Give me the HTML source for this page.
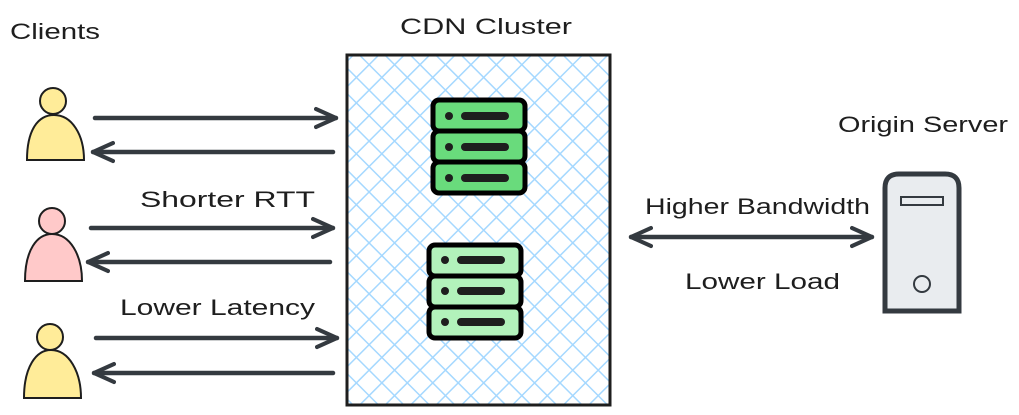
<!DOCTYPE html>
<html><head><meta charset="utf-8"><style>
html,body{margin:0;padding:0;background:#fff;}
svg{display:block;}
text{font-family:"Liberation Sans",sans-serif;font-size:22px;fill:#1e1e1e;}
</style></head><body>
<svg width="1019" height="415" viewBox="0 0 1019 415" xmlns="http://www.w3.org/2000/svg">
<defs>
<pattern id="h" width="18" height="18" patternUnits="userSpaceOnUse" patternTransform="rotate(45)">
<line x1="0" y1="0" x2="0" y2="18" stroke="#a5d8ff" stroke-width="3"/>
<line x1="0" y1="0" x2="18" y2="0" stroke="#a5d8ff" stroke-width="3"/>
</pattern>
<marker id="a" viewBox="0 0 24 24" refX="22" refY="12" markerWidth="24" markerHeight="24" markerUnits="userSpaceOnUse" orient="auto-start-reverse">
<path d="M2 3 L22 12 L2 21" fill="none" stroke="#343a40" stroke-width="4" stroke-linecap="round" stroke-linejoin="round"/>
</marker>
</defs>
<text x="10" y="39" textLength="90" lengthAdjust="spacingAndGlyphs">Clients</text>
<text x="400" y="34" textLength="172" lengthAdjust="spacingAndGlyphs">CDN Cluster</text>
<text x="838" y="132" textLength="170" lengthAdjust="spacingAndGlyphs">Origin Server</text>
<text x="645" y="214" textLength="225" lengthAdjust="spacingAndGlyphs">Higher Bandwidth</text>
<text x="685" y="289" textLength="155" lengthAdjust="spacingAndGlyphs">Lower Load</text>
<text x="140" y="207" textLength="175" lengthAdjust="spacingAndGlyphs">Shorter RTT</text>
<text x="120" y="315" textLength="195" lengthAdjust="spacingAndGlyphs">Lower Latency</text>

<rect x="347" y="55" width="263" height="350" fill="url(#h)" stroke="#1e1e1e" stroke-width="3"/>

<g>
<rect x="433" y="100" width="92" height="31" rx="6" fill="#69db7c" stroke="#000" stroke-width="5"/>
<rect x="433" y="131" width="92" height="31" rx="6" fill="#69db7c" stroke="#000" stroke-width="5"/>
<rect x="433" y="162" width="92" height="31" rx="6" fill="#69db7c" stroke="#000" stroke-width="5"/>
<g fill="#1e1e1e"><circle cx="449" cy="116" r="4"/><circle cx="449" cy="147" r="4"/><circle cx="449" cy="178" r="4"/>
<rect x="461" y="112" width="48" height="8" rx="4"/><rect x="461" y="143" width="48" height="8" rx="4"/><rect x="461" y="174" width="48" height="8" rx="4"/></g>
</g>
<g>
<rect x="429" y="245" width="92" height="31" rx="6" fill="#b2f2bb" stroke="#000" stroke-width="5"/>
<rect x="429" y="276" width="92" height="31" rx="6" fill="#b2f2bb" stroke="#000" stroke-width="5"/>
<rect x="429" y="307" width="92" height="31" rx="6" fill="#b2f2bb" stroke="#000" stroke-width="5"/>
<g fill="#1e1e1e"><circle cx="445" cy="260" r="4"/><circle cx="445" cy="291" r="4"/><circle cx="445" cy="322" r="4"/>
<rect x="457" y="256" width="48" height="8" rx="4"/><rect x="457" y="287" width="48" height="8" rx="4"/><rect x="457" y="318" width="48" height="8" rx="4"/></g>
</g>

<g stroke="#343a40" stroke-width="4.5" stroke-linecap="round" fill="none">
<line x1="95" y1="118" x2="336" y2="118" marker-end="url(#a)"/>
<line x1="333" y1="152" x2="93" y2="152" marker-end="url(#a)"/>
<line x1="91" y1="228" x2="333" y2="228" marker-end="url(#a)"/>
<line x1="330" y1="262" x2="88" y2="262" marker-end="url(#a)"/>
<line x1="96" y1="338" x2="337" y2="338" marker-end="url(#a)"/>
<line x1="333" y1="373" x2="94" y2="373" marker-end="url(#a)"/>
<line x1="631" y1="237" x2="872" y2="237" marker-start="url(#a)" marker-end="url(#a)"/>
</g>

<g stroke="#1e1e1e" stroke-width="2">
<circle cx="53" cy="101" r="13" fill="#ffec99"/>
<path d="M27 160 C27 130 38 115 54 115 C72 115 84 135 84 160 Z" fill="#ffec99"/>
<circle cx="52" cy="221" r="13" fill="#ffc9c9"/>
<path d="M25 281 C25 250 37 234 52 234 C70 234 82 255 82 281 Z" fill="#ffc9c9"/>
<circle cx="50" cy="337" r="13" fill="#ffec99"/>
<path d="M24 398 C24 367 36 350 51 350 C69 350 81 372 81 398 Z" fill="#ffec99"/>
</g>

<g>
<path d="M885 311 L885 188 Q885 174 899 174 L945 174 Q959 174 959 188 L959 311 Z" fill="#e9ecef" stroke="#343a40" stroke-width="5"/>
<rect x="901" y="197" width="42" height="8" fill="none" stroke="#343a40" stroke-width="2"/>
<circle cx="922" cy="284" r="8" fill="none" stroke="#343a40" stroke-width="2"/>
</g>
</svg>
</body></html>
